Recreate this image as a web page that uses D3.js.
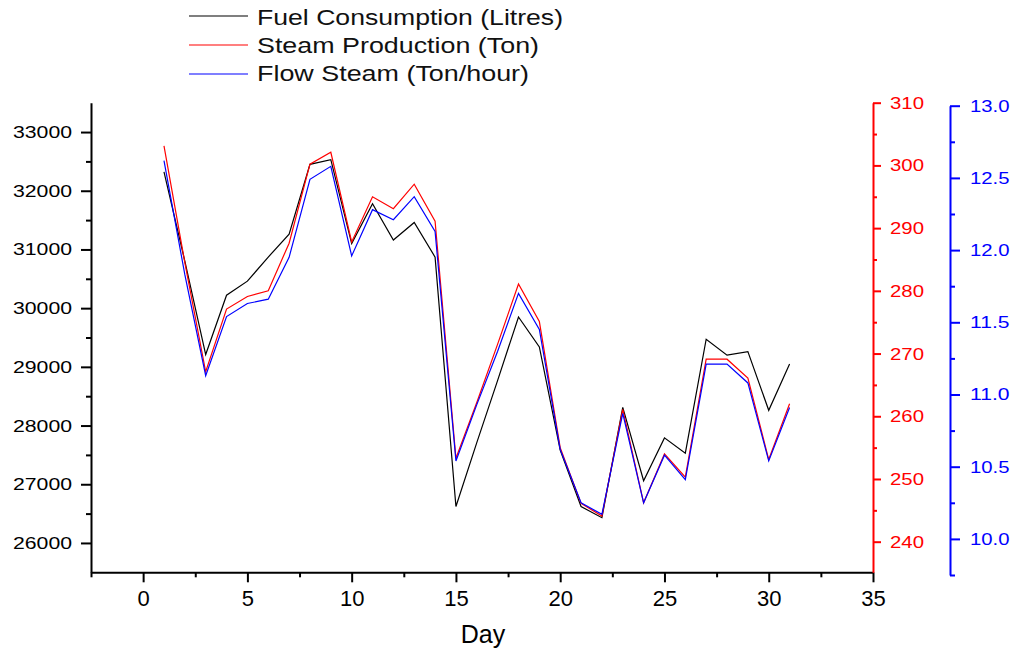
<!DOCTYPE html>
<html lang="en">
<head>
  <meta charset="utf-8">
  <title>Fuel consumption and steam by day</title>
  <style>
body { margin: 0; background: #fff; }
svg text { font-family: "Liberation Sans", Arial, sans-serif; }
</style>
</head>
<body>

<!-- Load d3.js -->
<script src="https://d3js.org/d3.v7.min.js"></script>

<div id="my_dataviz"></div>

<script>

// data, one value per day
var days = [1,2,3,4,5,6,7,8,9,10,11,12,13,14,15,16,17,18,19,20,21,22,23,24,25,26,27,28,29,30,31];
var fuel = [32320,30800,29210,30220,30460,30870,31260,32450,32530,31100,31780,31160,31460,30870,26620,
            27710,28770,29850,29340,27580,26620,26430,28310,27060,27790,27530,29470,29200,29260,28260,29050];
var steam = [303.1,284.5,267.1,277.1,279.1,280.0,287.6,300.2,302.1,287.8,295.0,293.1,297.0,291.1,253.3,
             262.2,271.5,281.1,275.1,255.0,246.1,244.1,261.1,246.2,254.0,250.3,269.1,269.1,266.1,253.1,262.0];
var flow = [12.62,11.83,11.13,11.54,11.63,11.66,11.95,12.49,12.58,11.96,12.28,12.21,12.37,12.13,10.54,
            10.93,11.30,11.70,11.45,10.62,10.25,10.17,10.87,10.25,10.58,10.41,11.21,11.21,11.08,10.54,10.91];

// tick labels
var xTicks = [0,5,10,15,20,25,30,35];
var fuelTicks = [26000,27000,28000,29000,30000,31000,32000,33000];
var steamTicks = [240,250,260,270,280,290,300,310];
var flowTicks = [10.0,10.5,11.0,11.5,12.0,12.5,13.0];

var seriesNames = ["Fuel Consumption (Litres)", "Steam Production (Ton)", "Flow Steam (Ton/hour)"];
var seriesColors = ["#000000", "#ff0000", "#0000ff"];

var width = 1018, height = 651;

var svg = d3.select("#my_dataviz")
  .append("svg")
    .attr("width", width)
    .attr("height", height);

// scales
var x = d3.scaleLinear().domain([-2.5, 35]).range([91, 873]);
var yFuel = d3.scaleLinear().domain([25500, 33500]).range([572.3, 102.7]);
var ySteam = d3.scaleLinear().domain([235.12, 310]).range([572.3, 102.7]);
var yFlow = d3.scaleLinear().domain([9.75, 13.0]).range([575, 105.7]);

// helper: minor ticks halfway between majors
function halves(ticks) {
  var out = [];
  for (var i = 0; i < ticks.length - 1; i++) out.push((ticks[i] + ticks[i+1]) / 2);
  return out;
}

function styleAxis(g, color, fontSize, textLen) {
  g.select(".domain").attr("stroke", color).attr("stroke-width", 2);
  g.selectAll(".tick line").attr("stroke", color).attr("stroke-width", 2);
  g.selectAll(".tick text")
    .attr("fill", color)
    .style("font-size", fontSize + "px");
  if (textLen) {
    g.selectAll(".tick text")
      .attr("textLength", textLen)
      .attr("lengthAdjust", "spacingAndGlyphs");
  }
}

// X axis
var gxMinor = svg.append("g")
  .attr("transform", "translate(0,572.3)")
  .call(d3.axisBottom(x).tickValues([-2.5].concat(halves(xTicks))).tickSize(5).tickSizeOuter(0).tickFormat(""));
styleAxis(gxMinor, "#000");
gxMinor.select(".domain").remove();

var gx = svg.append("g")
  .attr("transform", "translate(0,572.3)")
  .call(d3.axisBottom(x).tickValues(xTicks).tickSize(10).tickSizeOuter(0).tickPadding(7).tickFormat(d3.format("d")));
styleAxis(gx, "#000", 22);
gx.selectAll(".tick text").attr("dy", "0.78em");

svg.append("text")
  .attr("x", 483)
  .attr("y", 643)
  .attr("text-anchor", "middle")
  .style("font-size", "25px")
  .text("Day");

// left axis (fuel)
var gyMinor = svg.append("g")
  .attr("transform", "translate(91,0)")
  .call(d3.axisLeft(yFuel).tickValues(halves(fuelTicks)).tickSize(5).tickSizeOuter(0).tickFormat(""));
styleAxis(gyMinor, "#000");
gyMinor.select(".domain").remove();

var gy = svg.append("g")
  .attr("transform", "translate(91,0)")
  .call(d3.axisLeft(yFuel).tickValues(fuelTicks).tickSize(10).tickSizeOuter(0).tickPadding(9).tickFormat(d3.format("d")));
styleAxis(gy, "#000", 17, 59);

// right axis (steam, red)
var gsMinor = svg.append("g")
  .attr("transform", "translate(873,0)")
  .call(d3.axisRight(ySteam).tickValues(halves(steamTicks)).tickSize(4).tickSizeOuter(0).tickFormat(""));
styleAxis(gsMinor, "#ff0000");
gsMinor.select(".domain").remove();

var gs = svg.append("g")
  .attr("transform", "translate(873,0)")
  .call(d3.axisRight(ySteam).tickValues(steamTicks).tickSize(8).tickSizeOuter(0).tickPadding(9).tickFormat(d3.format("d")));
styleAxis(gs, "#ff0000", 17, 34);

// right axis (flow, blue)
var gfMinor = svg.append("g")
  .attr("transform", "translate(950,0)")
  .call(d3.axisRight(yFlow).tickValues([9.75].concat(halves(flowTicks))).tickSize(5).tickSizeOuter(0).tickFormat(""));
styleAxis(gfMinor, "#0000ff");
gfMinor.select(".domain").remove();

var gf = svg.append("g")
  .attr("transform", "translate(950,0)")
  .call(d3.axisRight(yFlow).tickValues(flowTicks).tickSize(10).tickSizeOuter(0).tickPadding(10).tickFormat(d3.format(".1f")));
styleAxis(gf, "#0000ff", 17, 39.5);

// lines
var series = [
  { values: fuel, y: yFuel, color: seriesColors[0] },
  { values: steam, y: ySteam, color: seriesColors[1] },
  { values: flow, y: yFlow, color: seriesColors[2] }
];

series.forEach(function(s) {
  svg.append("path")
    .datum(days.map(function(d, i) { return [d, s.values[i]]; }))
    .attr("fill", "none")
    .attr("stroke", s.color)
    .attr("stroke-width", 1.2)
    .attr("d", d3.line()
      .x(function(d) { return x(d[0]); })
      .y(function(d) { return s.y(d[1]); })
    );
});

// legend
var legendLineY = [16, 45, 74];
var legendTextY = [25, 53, 81];
var legendTextLen = [306, 282, 272];
seriesNames.forEach(function(name, i) {
  svg.append("line")
    .attr("x1", 189).attr("x2", 248)
    .attr("y1", legendLineY[i]).attr("y2", legendLineY[i])
    .attr("stroke", seriesColors[i])
    .attr("stroke-width", 1.2);
  svg.append("text")
    .attr("x", 257)
    .attr("y", legendTextY[i])
    .style("font-size", "22px")
    .attr("textLength", legendTextLen[i])
    .attr("lengthAdjust", "spacingAndGlyphs")
    .attr("fill", "#111")
    .text(name);
});

</script>
</body>
</html>
